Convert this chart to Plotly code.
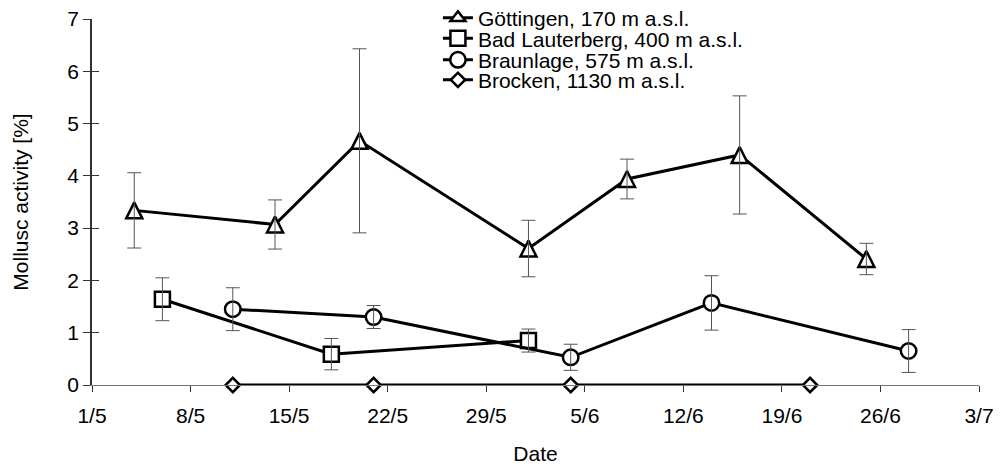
import plotly.graph_objects as go

# Sampling dates (1 May - 3 July) and mean activity with standard errors per site
gott_dates = ["2000-05-04", "2000-05-14", "2000-05-20", "2000-06-01", "2000-06-08", "2000-06-16", "2000-06-25"]
gott_vals = [3.34, 3.07, 4.67, 2.61, 3.94, 4.40, 2.41]
gott_err = [0.72, 0.47, 1.76, 0.54, 0.38, 1.13, 0.30]

bad_dates = ["2000-05-06", "2000-05-18", "2000-06-01"]
bad_vals = [1.64, 0.59, 0.85]
bad_err = [0.41, 0.30, 0.22]

braun_dates = ["2000-05-11", "2000-05-21", "2000-06-04", "2000-06-14", "2000-06-28"]
braun_vals = [1.45, 1.30, 0.53, 1.57, 0.65]
braun_err = [0.41, 0.22, 0.25, 0.52, 0.41]

brock_dates = ["2000-05-11", "2000-05-21", "2000-06-04", "2000-06-21"]
brock_vals = [0, 0, 0, 0]

series_names = [
    "Göttingen, 170 m a.s.l.",
    "Bad Lauterberg, 400 m a.s.l.",
    "Braunlage, 575 m a.s.l.",
    "Brocken, 1130 m a.s.l.",
]

FONT = "Liberation Sans, Arial, sans-serif"
ERR_COLOR = "#555555"
LINE = dict(color="black", width=3, backoff=0)
EDGE = dict(color="black", width=2.5)

fig = go.Figure()

tri_size = 16
# upright triangle centred on the point: a down arrow pushed back by half its size, then flipped
tri_marker = dict(symbol="arrow-down", angle=180, standoff=tri_size / 2, size=tri_size)
series = [
    (gott_dates, gott_vals, gott_err, tri_marker, "legend"),
    (bad_dates, bad_vals, bad_err, dict(symbol="square", size=15), "legend2"),
    (braun_dates, braun_vals, braun_err, dict(symbol="circle", size=15.5), "legend3"),
    (brock_dates, brock_vals, None, dict(symbol="diamond", size=11), "legend4"),
]

for i, ((dates, vals, errs, mk, leg), name) in enumerate(zip(series, series_names)):
    fig.add_trace(go.Scatter(
        x=dates, y=vals, name=name, mode="lines+markers",
        line=LINE, marker=dict(color="white", line=EDGE, **mk),
        cliponaxis=False, legend=leg, showlegend=(i != 0),
    ))

# legend entry for the triangle series
fig.add_trace(go.Scatter(
    x=[None], y=[None], name=series_names[0], mode="lines+markers",
    line=LINE, marker=dict(color="white", line=EDGE, symbol="triangle-up", size=13),
    legend="legend",
))

# Error bars as separate layers
for dates, vals, errs, mk, leg in series:
    if errs is None:
        continue
    fig.add_trace(go.Scatter(
        x=dates, y=vals, mode="markers", showlegend=False, hoverinfo="skip",
        marker=dict(size=1, opacity=0),
        error_y=dict(type="data", array=errs, visible=True, color=ERR_COLOR, thickness=1, width=7),
        cliponaxis=False,
    ))

legend_common = dict(
    font=dict(family=FONT, size=21, color="black"),
    bgcolor="rgba(0,0,0,0)", borderwidth=0, xanchor="left", yanchor="middle",
    yref="container", itemclick=False, itemdoubleclick=False,
)
leg_x = 0.39
fig.update_layout(
    legend=dict(x=leg_x, y=0.961, **legend_common),
    legend2=dict(x=leg_x, y=0.917, **legend_common),
    legend3=dict(x=leg_x, y=0.871, **legend_common),
    legend4=dict(x=leg_x, y=0.828, **legend_common),
)

fig.update_layout(
    width=1005, height=466,
    margin=dict(l=92, r=26, t=19, b=81, autoexpand=False),
    paper_bgcolor="white", plot_bgcolor="white",
    font=dict(family=FONT, size=21, color="black"),
    showlegend=True,
    xaxis=dict(
        type="date", range=["2000-05-01", "2000-07-03"],
        tick0="2000-05-01", dtick=7 * 86400000, tickformat="%-d/%-m",
        showgrid=False, zeroline=False,
        showline=True, linecolor="#777777", linewidth=1,
        ticks="outside", ticklen=6, tickcolor="#333333", tickwidth=1,
        ticklabelstandoff=6,
        tickfont=dict(family=FONT, size=21, color="black"),
        title=dict(text="Date", font=dict(family=FONT, size=21, color="black"), standoff=20),
        automargin=False,
    ),
    yaxis=dict(
        range=[0, 7], dtick=1, tick0=0,
        showgrid=False, zeroline=False,
        showline=True, linecolor="#333333", linewidth=1.5,
        ticks="outside", ticklen=7, tickcolor="#333333", tickwidth=1,
        tickfont=dict(family=FONT, size=21, color="black"),
        title=dict(text="Mollusc activity [%]", font=dict(family=FONT, size=21, color="black"), standoff=33),
        automargin=False,
    ),
    yaxis2=dict(
        range=[0, 7], dtick=1, tick0=0, overlaying="y", side="left",
        showgrid=False, zeroline=False, showline=False, showticklabels=False,
        ticks="inside", ticklen=7, tickcolor="#333333", tickwidth=1,
    ),
)

# invisible trace to activate the inner tick marks of the y axis
fig.add_trace(go.Scatter(x=[gott_dates[0]], y=[gott_vals[0]], yaxis="y2", mode="markers",
                         marker=dict(opacity=0), showlegend=False, hoverinfo="skip"))

fig.write_html("out.html")
